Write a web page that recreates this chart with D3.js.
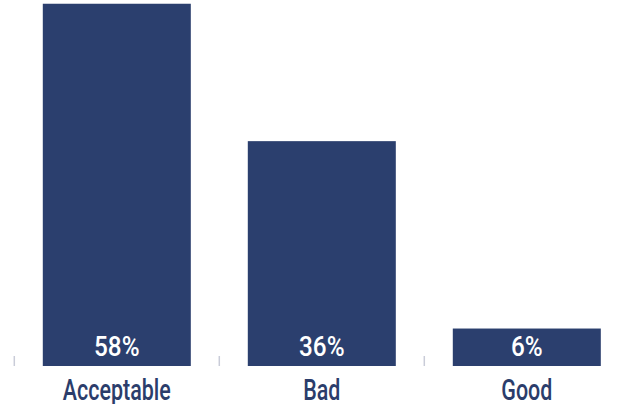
<!DOCTYPE html>
<html>
<head>
<meta charset="utf-8">
<script src="https://cdn.jsdelivr.net/npm/d3@7"></script>
<style>
  html, body { margin: 0; padding: 0; background: #ffffff; }
  svg { display: block; }
  text { font-family: Roboto, "Liberation Sans", sans-serif; font-weight: 500; }
</style>
</head>
<body>
<svg id="chart" width="617" height="404"></svg>
<script>
// Share of responses per rating
const categories = ["Acceptable", "Bad", "Good"];
const shares = [58, 36, 6];
const valueLabels = ["58%", "36%", "6%"];

const width = 617, height = 404;
const barColor = "#2b3f6e";
const textColor = "#2b3d6b";
const tickColor = "#c9ccd8";

const svg = d3.select("#chart");

// horizontal bands: each category owns a 205px slot starting at x = 14.3
const x = d3.scaleBand()
  .domain(categories)
  .range([14.3, 14.3 + 205 * categories.length])
  .paddingInner(0.278)
  .paddingOuter(0.139);

// vertical value scale, baseline at y = 366
const y = d3.scaleLinear()
  .domain([0, 58.6])
  .range([366, 0]);

const data = categories.map((c, i) => ({ cat: c, v: shares[i], label: valueLabels[i] }));

// bars
svg.append("g")
  .selectAll("rect")
  .data(data)
  .join("rect")
  .attr("x", d => x(d.cat))
  .attr("y", d => y(d.v))
  .attr("width", x.bandwidth())
  .attr("height", d => y(0) - y(d.v))
  .attr("fill", barColor);

// small tick marks at band boundaries along the baseline
const boundaries = categories.map(c => x(c) - x.step() * x.paddingOuter());
svg.append("g")
  .selectAll("line")
  .data(boundaries)
  .join("line")
  .attr("x1", d => d).attr("x2", d => d)
  .attr("y1", y(0) - 10).attr("y2", y(0))
  .attr("stroke", tickColor)
  .attr("stroke-width", 1.5);

// condensed look: squeeze glyphs horizontally by a fixed factor
const valueSqueeze = 0.9;
const catSqueeze = 0.74;

// value labels inside the bars, near the bottom
svg.append("g")
  .selectAll("text")
  .data(data)
  .join("text")
  .attr("transform", d => `translate(${x(d.cat) + x.bandwidth() / 2},${y(0) - 10.3}) scale(${valueSqueeze},1)`)
  .attr("text-anchor", "middle")
  .attr("fill", "#ffffff")
  .style("font-size", "27px")
  .text(d => d.label);

// category labels below the baseline
svg.append("g")
  .selectAll("text")
  .data(data)
  .join("text")
  .attr("transform", d => `translate(${x(d.cat) + x.bandwidth() / 2},${y(0) + 34.3}) scale(${catSqueeze},1)`)
  .attr("text-anchor", "middle")
  .attr("fill", textColor)
  .style("font-size", "29px")
  .text(d => d.cat);
</script>
</body>
</html>
